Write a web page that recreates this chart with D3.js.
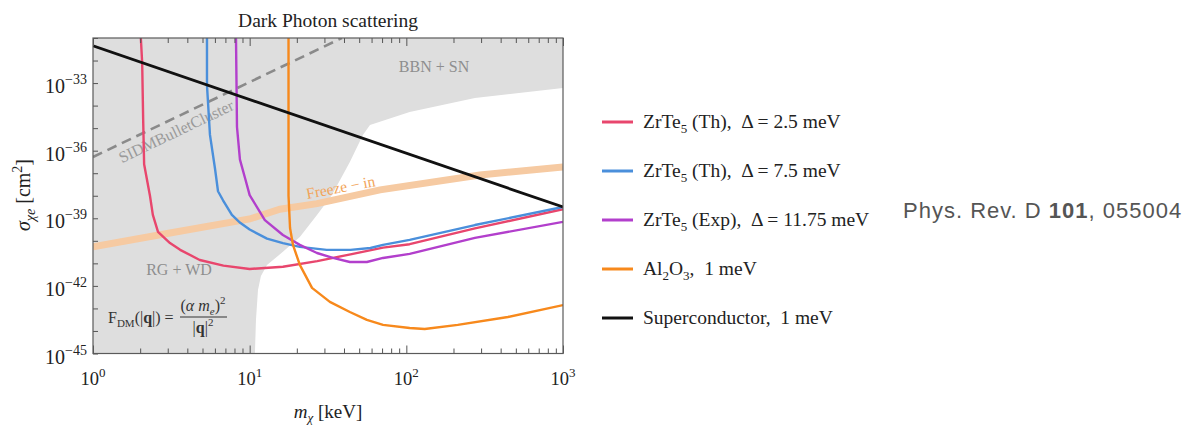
<!DOCTYPE html>
<html>
<head>
<meta charset="utf-8">
<script src="https://cdnjs.cloudflare.com/ajax/libs/d3/7.8.5/d3.min.js"></script>
<style>
body{margin:0;background:#fff;}
svg{font-family:"Liberation Serif","DejaVu Serif",serif;}
</style>
</head>
<body>
<div id="chart"></div>
<script>
// mass in keV, cross section given as log10(sigma / cm^2)
const zrTeTh25 = [[2.02,-31],[2.06,-32.1],[2.09,-34.6],[2.12,-36.6],[2.31,-38.0],[2.41,-38.85],[2.6,-39.6],[3.1,-40.1],[3.6,-40.4],[4.8,-40.85],[6.8,-41.1],[10,-41.25],[16.3,-41.15],[27,-40.9],[44,-40.6],[71,-40.3],[105,-40.15],[274,-39.45],[1000,-38.6]];
const zrTeTh75 = [[5.34,-31],[5.34,-33.1],[5.58,-35.3],[6.01,-36.8],[6.28,-37.8],[6.76,-38.2],[7.7,-38.85],[8.7,-39.2],[10,-39.5],[12.9,-39.9],[16.3,-40.1],[20.9,-40.27],[31,-40.4],[44,-40.4],[59,-40.32],[71,-40.18],[105,-39.96],[274,-39.3],[1000,-38.5]];
const zrTeExp = [[8.18,-31],[8.3,-34.95],[8.67,-36.4],[9.33,-37.2],[10,-37.97],[12.5,-39.08],[16.3,-39.74],[20.9,-40.18],[26.9,-40.54],[34,-40.76],[43.6,-40.94],[56,-40.94],[71,-40.76],[105,-40.58],[274,-39.87],[1000,-39.16]];
const al2o3 = [[17.7,-31],[17.7,-38.0],[18.1,-39.43],[18.9,-40.18],[20.9,-41.07],[25,-42.09],[32.5,-42.71],[43.6,-43.16],[56,-43.51],[71,-43.73],[105,-43.87],[131,-43.91],[213,-43.73],[445,-43.38],[1000,-42.85]];
const superconductor = [[1,-31.35],[1000,-38.5]];
const freezeIn = [[1,-40.27],[3.1,-39.65],[10,-39.03],[15.6,-38.6],[26.9,-38.35],[68,-37.74],[295,-37.08],[1000,-36.72]];
const sidmBullet = [[1,-36.28],[38.8,-31]];
// boundary of the unconstrained (white) region
const allowedRegion = [[10.8,-45],[10.97,-43.5],[11.3,-42.18],[11.8,-41.56],[12.9,-41.07],[16.3,-40.49],[20.9,-39.83],[26.9,-38.85],[33.5,-37.97],[43.6,-36.5],[52.8,-35.3],[58.6,-34.86],[105,-34.28],[274,-33.66],[1000,-33.22],[1000,-45]];

const xLabels = [1, 10, 100, 1000];
const xLabelExp = ['0', '1', '2', '3'];
const yLabelExp = [-45, -42, -39, -36, -33];

const seriesColors = ['#e8466d', '#4a8fdb', '#b23fcc', '#f7891c', '#111111'];
const legendLabels = [
  ['ZrTe', '5', ' (Th),  \u0394 = 2.5 meV'],
  ['ZrTe', '5', ' (Th),  \u0394 = 7.5 meV'],
  ['ZrTe', '5', ' (Exp),  \u0394 = 11.75 meV'],
  ['Al', '2', 'O', '3', ',  1 meV'],
  ['Superconductor,  1 meV']
];
const curves = [zrTeTh25, zrTeTh75, zrTeExp, al2o3, superconductor];

const W = 1188, H = 429;
const svg = d3.select('#chart').append('svg').attr('width', W).attr('height', H);

const x = d3.scaleLog().domain([1, 1000]).range([93, 563]);
const y = d3.scaleLog().domain([1e-45, 1e-31]).range([353.5, 38]);
const [x0, x1] = x.range();
const [yb, yt] = y.range();
const ly = e => y(Math.pow(10, e));

svg.append('clipPath').attr('id', 'plot-clip')
   .append('rect').attr('x', x0).attr('y', yt).attr('width', x1 - x0).attr('height', yb - yt);

const plot = svg.append('g').attr('clip-path', 'url(#plot-clip)');

// excluded region = grey background, allowed region painted white on top
plot.append('rect').attr('x', x0).attr('y', yt).attr('width', x1 - x0).attr('height', yb - yt)
    .style('fill', '#dedede');

const line = d3.line().x(d => x(d[0])).y(d => ly(d[1]));

plot.append('path').datum(allowedRegion).attr('d', d => line(d) + 'Z').style('fill', '#fff');

// text labels on the constraint regions
plot.append('text').attr('x', 434).attr('y', 72).attr('text-anchor', 'middle')
    .style('font-size', '16px').style('fill', '#8e8e8e').text('BBN + SN');
plot.append('text').attr('x', 179).attr('y', 275).attr('text-anchor', 'middle')
    .style('font-size', '16px').style('fill', '#8e8e8e').text('RG + WD');

// freeze-in band
plot.append('path').datum(freezeIn).attr('d', line)
    .style('fill', 'none').style('stroke', '#f6caa2').style('stroke-width', 7);

// SIDM bullet cluster
plot.append('path').datum(sidmBullet).attr('d', line)
    .style('fill', 'none').style('stroke', '#8a8a8a').style('stroke-width', 2.6)
    .style('stroke-dasharray', '10,6');

const sidmAngle = Math.atan2(ly(sidmBullet[1][1]) - ly(sidmBullet[0][1]),
                             x(sidmBullet[1][0]) - x(sidmBullet[0][0])) * 180 / Math.PI;
plot.append('text')
    .attr('transform', `translate(${x(1.53)},${ly(-35.67) + 20}) rotate(${sidmAngle})`)
    .style('font-size', '16px').style('fill', '#9a9a9a').text('SIDMBulletCluster');

plot.append('text')
    .attr('transform', `translate(${x(23.3)},${ly(-38.45) - 7}) rotate(-10.5)`)
    .style('font-size', '15.5px').style('fill', '#f2a459').text('Freeze \u2212 in');

// sensitivity curves
plot.selectAll('.curve').data(curves).enter().append('path')
    .attr('class', 'curve')
    .attr('d', line)
    .style('fill', 'none')
    .style('stroke', (d, i) => seriesColors[i])
    .style('stroke-width', (d, i) => i === 4 ? 2.8 : 2.4)
    .style('stroke-linejoin', 'round');

// formula
const formula = svg.append('g').style('fill', '#333').style('font-size', '16px');
const fl = formula.append('text').attr('x', 108).attr('y', 323);
fl.append('tspan').text('F');
fl.append('tspan').attr('dy', 4).style('font-size', '11px').text('DM');
fl.append('tspan').attr('dy', -4).text('(|');
fl.append('tspan').style('font-weight', 'bold').text('q');
fl.append('tspan').text('|) =');
const num = formula.append('text').attr('x', 203).attr('y', 311).attr('text-anchor', 'middle');
num.append('tspan').text('(');
num.append('tspan').style('font-style', 'italic').text('\u03b1 m');
num.append('tspan').attr('dy', 4).style('font-size', '11px').style('font-style', 'italic').text('e');
num.append('tspan').attr('dy', -4).text(')');
num.append('tspan').attr('dy', -7).style('font-size', '11px').text('2');
formula.append('line').attr('x1', 180).attr('x2', 227).attr('y1', 317).attr('y2', 317)
    .style('stroke', '#333').style('stroke-width', 1.2);
const den = formula.append('text').attr('x', 203).attr('y', 333).attr('text-anchor', 'middle');
den.append('tspan').text('|');
den.append('tspan').style('font-weight', 'bold').text('q');
den.append('tspan').text('|');
den.append('tspan').attr('dy', -7).style('font-size', '11px').text('2');

// axes (ticks pointing inwards)
const minorX = d3.range(0, 3).flatMap(p => d3.range(2, 10).map(k => k * Math.pow(10, p)));
const decadesY = d3.range(-45, -30).map(e => Math.pow(10, e));
const tickStyle = g => {
  g.select('.domain').remove();
  g.selectAll('line').style('stroke', '#555');
};

svg.append('g').attr('transform', `translate(0,${yb})`)
   .call(d3.axisBottom(x).tickValues(minorX).tickSizeInner(-5).tickSizeOuter(0).tickFormat(''))
   .call(tickStyle);
svg.append('g').attr('transform', `translate(0,${yb})`)
   .call(d3.axisBottom(x).tickValues(xLabels).tickSizeInner(-8).tickSizeOuter(0).tickFormat(''))
   .call(tickStyle);
svg.append('g').attr('transform', `translate(0,${yt})`)
   .call(d3.axisTop(x).tickValues(minorX).tickSizeInner(-5).tickSizeOuter(0).tickFormat(''))
   .call(tickStyle);
svg.append('g').attr('transform', `translate(0,${yt})`)
   .call(d3.axisTop(x).tickValues(xLabels).tickSizeInner(-8).tickSizeOuter(0).tickFormat(''))
   .call(tickStyle);
svg.append('g').attr('transform', `translate(${x0},0)`)
   .call(d3.axisLeft(y).tickValues(decadesY).tickSizeInner(-5).tickSizeOuter(0).tickFormat(''))
   .call(tickStyle);

// frame
svg.append('rect').attr('x', x0).attr('y', yt).attr('width', x1 - x0).attr('height', yb - yt)
   .style('fill', 'none').style('stroke', '#5a5a5a').style('stroke-width', 1.2);

// tick labels
const xl = svg.selectAll('.xlab').data(xLabels).enter().append('text')
   .attr('class', 'xlab')
   .attr('x', d => x(d)).attr('y', 385).attr('text-anchor', 'middle')
   .style('font-size', '18.5px').style('fill', '#222');
xl.append('tspan').text('10');
xl.append('tspan').attr('dy', -8).style('font-size', '13px').text((d, i) => xLabelExp[i]);

const yl = svg.selectAll('.ylab').data(yLabelExp).enter().append('text')
   .attr('class', 'ylab')
   .attr('x', 87).attr('y', d => ly(d) + 10).attr('text-anchor', 'end')
   .style('font-size', '20px').style('fill', '#222');
yl.append('tspan').text('10');
yl.append('tspan').attr('dy', -9).style('font-size', '14px').text(d => '\u2212' + Math.abs(d));

// axis titles
const yt2 = svg.append('text').attr('transform', 'translate(30,195) rotate(-90)')
   .attr('text-anchor', 'middle').style('font-size', '20px').style('fill', '#222');
yt2.append('tspan').style('font-style', 'italic').text('\u03c3');
yt2.append('tspan').attr('dy', 5).style('font-size', '14px').style('font-style', 'italic').text('\u03c7e');
yt2.append('tspan').attr('dy', -5).text(' [cm');
yt2.append('tspan').attr('dy', -8).style('font-size', '14px').text('2');
yt2.append('tspan').attr('dy', 8).text(']');

const xt = svg.append('text').attr('x', 328).attr('y', 418)
   .attr('text-anchor', 'middle').style('font-size', '19px').style('fill', '#222');
xt.append('tspan').style('font-style', 'italic').text('m');
xt.append('tspan').attr('dy', 4).style('font-size', '13px').style('font-style', 'italic').text('\u03c7');
xt.append('tspan').attr('dy', -4).text(' [keV]');

svg.append('text').attr('x', 328).attr('y', 27).attr('text-anchor', 'middle')
   .style('font-size', '19.5px').style('fill', '#222').text('Dark Photon scattering');

// legend
const legend = svg.append('g').attr('class', 'legend');
const rows = legend.selectAll('g').data(legendLabels).enter().append('g')
   .attr('transform', (d, i) => `translate(602,${122 + i * 49})`);
rows.append('line').attr('x1', 0).attr('x2', 31)
   .style('stroke', (d, i) => seriesColors[i]).style('stroke-width', 3);
const lt = rows.append('text').attr('x', 41).attr('y', 6)
   .style('font-size', '19.5px').style('fill', '#222').style('white-space', 'pre');
lt.each(function(parts) {
  const t = d3.select(this);
  parts.forEach((p, k) => {
    if (k % 2 === 1) t.append('tspan').attr('dy', 5).style('font-size', '13px').text(p);
    else t.append('tspan').attr('dy', k === 0 ? 0 : -5).text(p);
  });
});

svg.append('text').attr('x', 903).attr('y', 218)
   .style('font-family', '"Liberation Sans", Arial, sans-serif')
   .style('font-size', '22px').style('letter-spacing', '1px').style('fill', '#555')
   .call(t => {
     t.append('tspan').text('Phys. Rev. D ');
     t.append('tspan').style('font-weight', 'bold').text('101');
     t.append('tspan').text(', 055004');
   });
</script>
</body>
</html>
